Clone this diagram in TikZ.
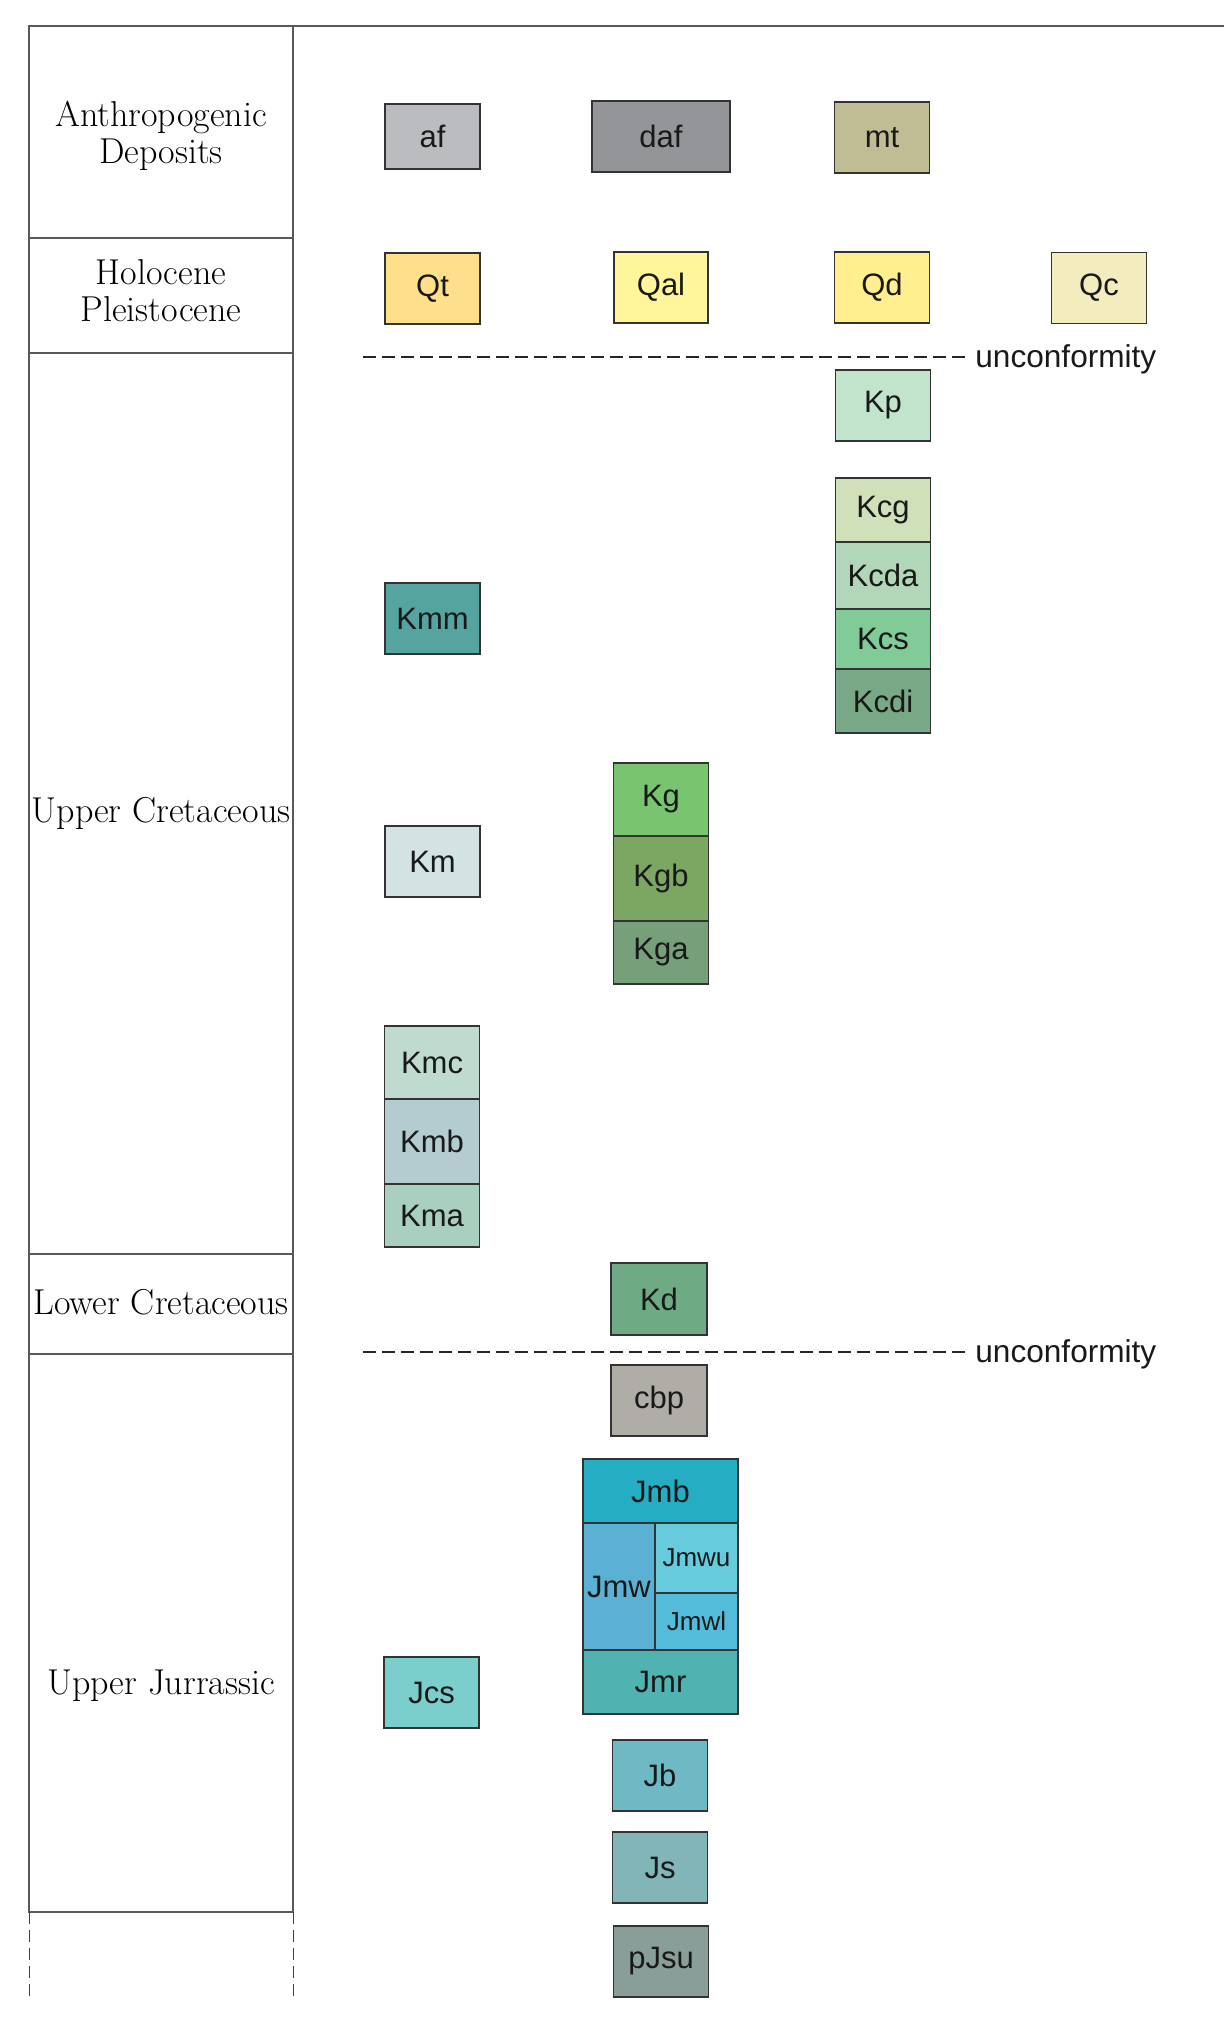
\documentclass[tikz,border=0pt]{standalone}
\usepackage{fontspec}
\newfontfamily\unitfont{Liberation Sans}
\usetikzlibrary{positioning}
\definecolor{af}{HTML}{BBBCC0}
\definecolor{daf}{HTML}{939598}
\definecolor{mt}{HTML}{C0BD94}
\definecolor{qt}{HTML}{FEDF8A}
\definecolor{qal}{HTML}{FFF59A}
\definecolor{qd}{HTML}{FFEF8E}
\definecolor{qc}{HTML}{F2ECBE}
\definecolor{kp}{HTML}{C2E4CC}
\definecolor{kcg}{HTML}{D0E0B9}
\definecolor{kcda}{HTML}{B1D6B8}
\definecolor{kcs}{HTML}{80CB98}
\definecolor{kcdi}{HTML}{79A886}
\definecolor{kmm}{HTML}{56A49F}
\definecolor{km}{HTML}{D3E3E3}
\definecolor{kg}{HTML}{79C46F}
\definecolor{kgb}{HTML}{7CA762}
\definecolor{kga}{HTML}{779F7A}
\definecolor{kmc}{HTML}{BFDBCF}
\definecolor{kmb}{HTML}{B2CCD0}
\definecolor{kma}{HTML}{A9D0BE}
\definecolor{kd}{HTML}{6EAA84}
\definecolor{cbp}{HTML}{B0ADA6}
\definecolor{jmb}{HTML}{25ADC4}
\definecolor{jmw}{HTML}{5AB1D4}
\definecolor{jmwu}{HTML}{67CBDE}
\definecolor{jmwl}{HTML}{52BCDA}
\definecolor{jmr}{HTML}{51B2B2}
\definecolor{jcs}{HTML}{7ACECB}
\definecolor{jb}{HTML}{6EB9C4}
\definecolor{js}{HTML}{82B5B8}
\definecolor{pjsu}{HTML}{8A9E99}
\begin{document}
\begin{tikzpicture}[x=0.5pt, y=-0.5pt,
    unit/.style={draw=black!80, line width=0.75pt, inner sep=0pt, outer sep=0pt,
      minimum width=47.5pt, minimum height=35.5pt, text=black!90,
      font=\unitfont\fontsize{15.5}{18}\selectfont},
    small/.style={font=\unitfont\fontsize{13}{15}\selectfont},
    age/.style={align=center, font=\fontsize{18}{18.6}\selectfont},
    frame/.style={draw=black!65, line width=0.75pt},
    gap/.style={draw=black!85, line width=1pt, dash pattern=on 6.5pt off 3pt}]
  \useasboundingbox (0,0) rectangle (1224,2017);
  \draw[frame] (1224,26) -- (29,26) -- (29,1912) -- (293,1912) -- (293,26);
  \foreach \y in {238,353,1254,1354}
    \draw[frame] (29,\y) -- (293,\y);
  \draw[frame, draw=black!75, line width=0.5pt, dash pattern=on 6pt off 3pt] (29,1912) -- (29,1999) (293,1912) -- (293,1999);
  \node[age] (anthro) at (161,136) {Anthropogenic\\Deposits};
  \node[age] (holo) at (161,291) {Holocene\\Pleistocene};
  \node[age] (ucret) at (161,813) {Upper Cretaceous};
  \node[age] (lcret) at (161,1302) {Lower Cretaceous};
  \node[age] (ujur) at (161,1686) {Upper Jurrassic};
  \coordinate (gapA) at (363,357);
  \coordinate (gapB) at (966,357);
  \node[anchor=base west, inner sep=0pt, font=\unitfont\fontsize{15.8}{18}\selectfont, text=black!90] (uncA) at (975,367) {unconformity};
  \draw[gap] (gapA) -- (gapB);
  \coordinate (gapC) at (363,1352);
  \coordinate (gapD) at (966,1352);
  \node[anchor=base west, inner sep=0pt, font=\unitfont\fontsize{15.8}{18}\selectfont, text=black!90] (uncB) at (975,1362) {unconformity};
  \draw[gap] (gapC) -- (gapD);
  \node[unit, fill=af, minimum height=32.5pt] (af) at (432.5,136.5) {af};
  \node[unit, fill=daf, minimum width=69pt] (daf) at (661,136.5) {daf};
  \node[unit, fill=mt] (mt) at (882,137.5) {mt};
  \node[unit, fill=qt] (qt) at (432.5,288.5) {Qt};
  \node[unit, fill=qal, minimum width=47pt] (qal) at (661,287.5) {Qal};
  \node[unit, fill=qd] (qd) at (882,287.5) {Qd};
  \node[unit, fill=qc] (qc) at (1099,288) {Qc};
  \node[unit, fill=kp] (kp) at (883,405.5) {Kp};
  \node[unit, fill=kcg, anchor=north, minimum height=32pt] (kcg) at (883,478) {Kcg};
  \node[unit, fill=kcda, minimum height=33.5pt, below=0pt of kcg] (kcda) {Kcda};
  \node[unit, fill=kcs, minimum height=30pt, below=0pt of kcda] (kcs) {Kcs};
  \node[unit, fill=kcdi, minimum height=32pt, below=0pt of kcs] (kcdi) {Kcdi};
  \node[unit, fill=kmm] (kmm) at (432.5,618.5) {Kmm};
  \node[unit, fill=km] (km) at (432.5,861.5) {Km};
  \node[unit, fill=kg, anchor=north, minimum height=36.5pt] (kg) at (661,763) {Kg};
  \node[unit, fill=kgb, minimum height=42.5pt, below=0pt of kg] (kgb) {Kgb};
  \node[unit, fill=kga, minimum height=31.5pt, below=0pt of kgb] (kga) {Kga};
  \node[unit, fill=kmc, anchor=north, minimum height=36.5pt] (kmc) at (432,1026) {Kmc};
  \node[unit, fill=kmb, minimum height=42.5pt, below=0pt of kmc] (kmb) {Kmb};
  \node[unit, fill=kma, minimum height=31.5pt, below=0pt of kmb] (kma) {Kma};
  \node[unit, fill=kd, minimum width=48pt, minimum height=36pt] (kd) at (659,1299) {Kd};
  \node[unit, fill=cbp, minimum width=48pt] (cbp) at (659,1400.5) {cbp};
  \node[unit, fill=jmb, anchor=north, minimum width=77.5pt, minimum height=32pt] (jmb) at (660.5,1459) {Jmb};
  \node[unit, fill=jmw, anchor=north west, minimum width=36pt, minimum height=63.5pt] (jmw) at (jmb.south west) {Jmw};
  \node[unit, small, fill=jmwu, anchor=north west, minimum width=41.5pt, minimum height=35pt] (jmwu) at (jmw.north east) {Jmwu};
  \node[unit, small, fill=jmwl, minimum width=41.5pt, minimum height=28.5pt, below=0pt of jmwu] (jmwl) {Jmwl};
  \node[unit, fill=jmr, anchor=north west, minimum width=77.5pt, minimum height=32pt] (jmr) at (jmw.south west) {Jmr};
  \node[unit, fill=jcs] (jcs) at (431.5,1692.5) {Jcs};
  \node[unit, fill=jb] (jb) at (660,1775.5) {Jb};
  \node[unit, fill=js] (js) at (660,1867.5) {Js};
  \node[unit, fill=pjsu] (pjsu) at (661,1961.5) {pJsu};
\end{tikzpicture}
\end{document}
